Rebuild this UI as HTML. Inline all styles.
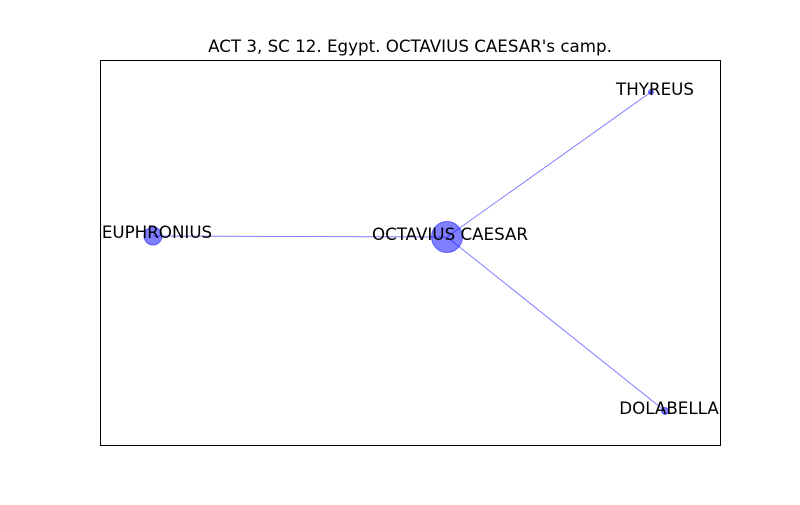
<!DOCTYPE html>
<html><head><meta charset="utf-8"><style>
html,body{margin:0;padding:0;background:#fff;}
</style></head><body>
<svg width="800" height="500" viewBox="0 0 800 500" xmlns="http://www.w3.org/2000/svg" font-family="'DejaVu Sans','Liberation Sans',sans-serif">
<rect x="0" y="0" width="800" height="500" fill="#fff"/>
<text x="410" y="52" font-size="16.7" text-anchor="middle" fill="#000">ACT 3, SC 12. Egypt. OCTAVIUS CAESAR's camp.</text>
<rect x="100.5" y="60.5" width="620" height="385" fill="none" stroke="#000" stroke-width="1"/>
<g stroke="#0000ff" stroke-opacity="0.5" stroke-width="1">
<line x1="447" y1="237" x2="153" y2="236"/>
<line x1="447" y1="237" x2="651" y2="92"/>
<line x1="447" y1="237" x2="665" y2="411"/>
</g>
<g fill="#0000ff" fill-opacity="0.5" stroke="#0000ff" stroke-opacity="0.5">
<circle cx="447" cy="237" r="15.5"/>
<circle cx="153" cy="236" r="9"/>
<circle cx="651" cy="92" r="2.5"/>
<circle cx="665" cy="411" r="3.5"/>
</g>
<g font-size="16.7" text-anchor="middle" fill="#000">
<text x="450" y="240">OCTAVIUS CAESAR</text>
<text x="157" y="238">EUPHRONIUS</text>
<text x="655" y="95">THYREUS</text>
<text x="669" y="414">DOLABELLA</text>
</g>
</svg>
</body></html>
